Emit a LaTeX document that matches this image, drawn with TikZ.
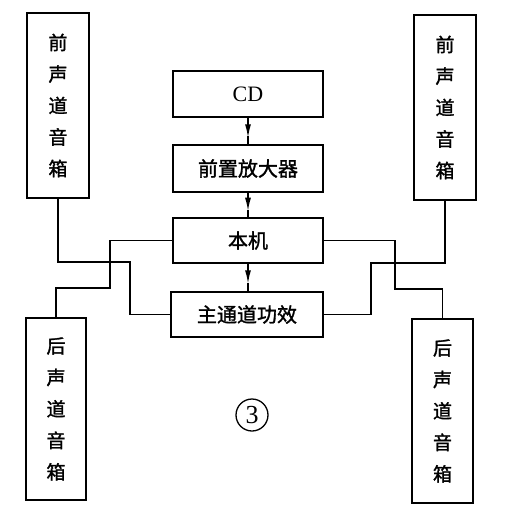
\documentclass[tikz,border=0pt]{standalone}
\usepackage{fontspec}
\newfontfamily\cjk{Noto Sans CJK SC}[FakeBold=1.5]
\newfontfamily\lserif{Liberation Serif}
\usetikzlibrary{arrows.meta,calc}
\begin{document}
\begin{tikzpicture}[x=1pt,y=-1pt,
  box/.style={draw,line width=2pt,inner sep=0pt,font=\cjk\fontsize{20}{20}\selectfont},
  spk/.style={draw,line width=2pt,inner sep=0pt,align=center,font=\cjk\fontsize{19}{31.5}\selectfont},
  wire/.style={line width=1.8pt},
  tipline/.style={line width=1.8pt,-{Latex[length=14pt,width=6pt]}}]
\useasboundingbox (0,0) rectangle (506,520);
% central chain
\node[box,minimum width=150,minimum height=46] (cd) at (248,94) {\lserif\fontsize{22}{22}\selectfont CD};
\node[box,minimum width=150,minimum height=47] (pre) at (248,168.5) {前置放大器};
\node[box,minimum width=150,minimum height=45] (main) at (248,240.5) {本机};
\node[box,minimum width=152,minimum height=45] (amp) at (247,314.5) {主通道功效};
% speakers
\node[spk,minimum width=62,minimum height=185] (fl) at (58,105.5) {前\\声\\道\\音\\箱};
\node[spk,minimum width=62,minimum height=185] (fr) at (445,107.5) {前\\声\\道\\音\\箱};
\node[spk,minimum width=60,minimum height=182] (rl) at (56,409) {后\\声\\道\\音\\箱};
\node[spk,minimum width=61,minimum height=184] (rr) at (442.5,411) {后\\声\\道\\音\\箱};
% arrows
\draw[tipline] (cd.south) -- ($(cd.south)!0.78!(pre.north)$);
\draw[wire] ($(cd.south)!0.7!(pre.north)$) -- (pre.north);
\draw[tipline] (pre.south) -- ($(pre.south)!0.78!(main.north)$);
\draw[wire] ($(pre.south)!0.7!(main.north)$) -- (main.north);
\draw[tipline] (main.south) -- ($(main.south)!0.75!(main.south|-amp.north)$);
\draw[wire] ($(main.south)!0.7!(main.south|-amp.north)$) -- (main.south|-amp.north);
% wires
\coordinate (a1) at (58,262);
\coordinate (a2) at (130,262);
\coordinate (a3) at (130,314.5);
\draw[wire] (fl.south) -- (a1) -- (a2) -- (a3) -- (amp.west);
\coordinate (b1) at (56,288);
\coordinate (b2) at (110,288);
\coordinate (b3) at (110,240.5);
\draw[wire] (rl.north) -- (b1) -- (b2) -- (b3) -- (main.west);
\coordinate (c1) at (395,240.5);
\coordinate (c2) at (395,289);
\coordinate (c3) at (442.5,289);
\draw[wire] (main.east) -- (c1) -- (c2) -- (c3) -- (rr.north);
\coordinate (d1) at (371,314.5);
\coordinate (d2) at (371,263);
\coordinate (d3) at (445,263);
\draw[wire] (amp.east) -- (d1) -- (d2) -- (d3) -- (fr.south);
% figure number
\node[circle,draw,line width=1.3pt,minimum size=32,inner sep=0pt,font=\lserif\fontsize{26}{26}\selectfont] (num) at (252,415) {3};
\end{tikzpicture}
\end{document}
